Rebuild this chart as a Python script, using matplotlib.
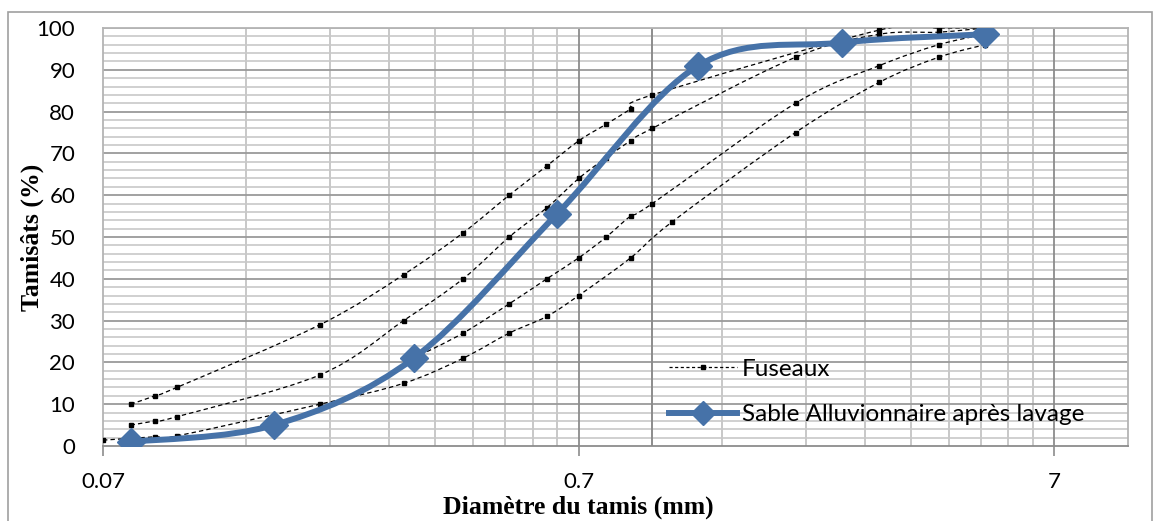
import numpy as np
import matplotlib.pyplot as plt
from matplotlib.path import Path
from matplotlib.patches import PathPatch, Rectangle
from matplotlib.lines import Line2D

# sieve analysis of the sand (Diamètre du tamis in mm, Tamisâts in %)
sable_x = [0.08, 0.16, 0.315, 0.63, 1.25, 2.5, 5.0]
sable_y = [1.0, 5.0, 21.0, 55.5, 91.0, 96.5, 98.5]

# fuseau limits (4 dashed curves)
fus1_x = [0.08, 0.09, 0.1, 0.2, 0.3, 0.4, 0.5, 0.6, 0.7, 0.8, 0.9, 1.0, 3.0, 4.0, 5.0]
fus1_y = [10, 12, 14, 29, 41, 51, 60, 67, 73, 77, 80.6, 84, 99.5, 100, 100]

fus2_x = [0.08, 0.09, 0.1, 0.2, 0.3, 0.4, 0.5, 0.6, 0.7, 0.8, 0.9, 1.0, 2.0, 3.0, 4.0, 5.0]
fus2_y = [5, 6, 7, 17, 30, 40, 50, 57, 64, 69, 73, 76, 93, 98.5, 99, 100]

fus3_x = [0.315, 0.4, 0.5, 0.6, 0.7, 0.8, 0.9, 1.0, 2.0, 3.0, 4.0, 5.0]
fus3_y = [21, 27, 34, 40, 45, 50, 55, 58, 82, 91, 96, 98.5]

fus4_x = [0.07, 0.09, 0.1, 0.2, 0.3, 0.4, 0.5, 0.6, 0.7, 0.9, 1.1, 2.0, 3.0, 4.0, 5.0]
fus4_y = [1.4, 2.2, 2.4, 10, 15, 21, 27, 31, 36, 45, 53.6, 75, 87, 93, 96]

fuseaux = [(fus1_x, fus1_y), (fus2_x, fus2_y), (fus3_x, fus3_y), (fus4_x, fus4_y)]

x_major = [0.07, 0.7, 7]
x_major_labels = ["0.07", "0.7", "7"]

blue = "#4672a8"
font = ["Lato", "DejaVu Sans"]
serif = ["Liberation Serif", "DejaVu Serif"]


def smooth_path(xs, ys):
    # excel-like smoothed line: cubic bezier (catmull-rom) in log-x space
    u = np.log10(np.asarray(xs, float))
    v = np.asarray(ys, float)
    n = len(u)
    verts = [(xs[0], ys[0])]
    codes = [Path.MOVETO]
    for i in range(n - 1):
        a = max(i - 1, 0)
        b = min(i + 2, n - 1)
        c1u = u[i] + (u[i + 1] - u[a]) / 6.0
        c1v = v[i] + (v[i + 1] - v[a]) / 6.0
        c2u = u[i + 1] - (u[b] - u[i]) / 6.0
        c2v = v[i + 1] - (v[b] - v[i]) / 6.0
        verts += [(10 ** c1u, c1v), (10 ** c2u, c2v), (xs[i + 1], ys[i + 1])]
        codes += [Path.CURVE4] * 3
    return Path(verts, codes)


fig = plt.figure(figsize=(11.6, 5.21), dpi=100)
ax = fig.add_axes([103 / 1160, 1 - 446 / 521, (1128 - 103) / 1160, (446 - 28) / 521])

ax.set_xscale("log")
ax.set_xlim(0.07, 10)
ax.set_ylim(0, 100)

# grid
minor_x = [0.07 * k for k in range(2, 10)] + [0.7 * k for k in range(2, 10)]
minor_x = [m for m in minor_x if m < 10]
for m in minor_x:
    ax.axvline(m, color="#c4c4c4", lw=1.3, zorder=0)
for yy in range(2, 100, 2):
    if yy % 10:
        ax.axhline(yy, color="#c8c8c8", lw=1.2, zorder=0)
    else:
        ax.axhline(yy, color="#9a9a9a", lw=1.3, zorder=0)
ax.axhline(100, color="#b0b0b0", lw=1.3, zorder=0)
for m in x_major[1:]:
    ax.axvline(m, color="#8c8c8c", lw=1.3, zorder=0)
ax.axvline(1.0, color="#8c8c8c", lw=1.4, zorder=0)

for s in ["top", "right", "left"]:
    ax.spines[s].set_color("#b4b4b4")
    ax.spines[s].set_linewidth(1.3)
ax.spines["bottom"].set_color("#8c8c8c")
ax.spines["bottom"].set_linewidth(1.3)

ax.set_xticks(x_major)
ax.set_xticklabels(x_major_labels)
ax.set_xticks([], minor=True)
ax.set_yticks(range(0, 101, 10))
ax.tick_params(axis="x", which="major", length=7, width=1.2, color="#8c8c8c",
               pad=12, labelsize=16)
ax.tick_params(axis="y", which="major", length=0, pad=20, labelsize=16)
for lab in ax.get_xticklabels() + ax.get_yticklabels():
    lab.set_family(font)

# fuseaux
for fx, fy in fuseaux:
    ax.add_patch(PathPatch(smooth_path(fx, fy), fill=False, edgecolor="black",
                           lw=0.9, linestyle=(0, (3.5, 2.5)), zorder=3))
    ax.plot(fx, fy, "s", color="black", ms=2.8, zorder=3)

# sable
ax.add_patch(PathPatch(smooth_path(sable_x, sable_y), fill=False, edgecolor=blue,
                       lw=4.3, capstyle="round", joinstyle="round", zorder=4))
ax.plot(sable_x, sable_y, "D", color=blue, ms=14, zorder=5)

ax.set_ylabel("Tamisâts (%)", family=serif, fontweight="bold", fontsize=18.5)
ax.yaxis.set_label_coords(-(103 - 44) / 1025, 0.5)
ax.set_xlabel("Diamètre du tamis (mm)", family=serif, fontweight="bold", fontsize=18.5)
ax.xaxis.set_label_coords(0.464, -(496 - 446) / 418)

handles = [
    Line2D([], [], color="black", lw=0.9, linestyle=(0, (2.5, 2)), marker="s", ms=2.8),
    Line2D([], [], color=blue, lw=4.3, marker="D", ms=12),
]
leg = ax.legend(handles, ["Fuseaux", "Sable Alluvionnaire après lavage"],
                loc="upper left", bbox_to_anchor=(0.543, 0.232), frameon=False,
                prop={"family": font, "size": 17.5}, handlelength=2.8,
                handletextpad=0.2, labelspacing=1.0, borderaxespad=0)

fig.patches.append(Rectangle((8 / 1160, -0.01), (1152 - 8) / 1160, 1.01 - 12 / 521,
                             transform=fig.transFigure, fill=False,
                             edgecolor="#a0a0a0", lw=1.2))

fig.savefig("out.png", dpi=100)
